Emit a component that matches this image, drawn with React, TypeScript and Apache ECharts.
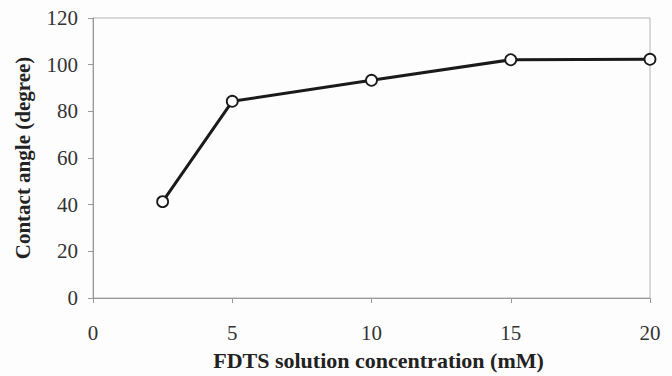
import React, { useEffect, useRef } from "react";
import * as echarts from "echarts";

const concentrations = [2.5, 5, 10, 15, 20];
const contactAngles = [41.3, 84.3, 93.3, 102.1, 102.3];
const xTicks = [0, 5, 10, 15, 20];
const yTicks = [0, 20, 40, 60, 80, 100, 120];

export default function App() {
  const ref = useRef<HTMLDivElement>(null);
  useEffect(() => {
    if (!ref.current) return;
    const chart = echarts.init(ref.current, undefined, { renderer: "svg" });
    const font = "'Liberation Serif', 'Times New Roman', serif";
    chart.setOption({
      animation: false,
      backgroundColor: "#fdfdfd",
      grid: {
        left: 93,
        right: 22,
        top: 18,
        bottom: 77,
        show: true,
        borderColor: "#b5b5b5",
        borderWidth: 1,
        backgroundColor: "transparent",
      },
      xAxis: {
        type: "value",
        min: xTicks[0],
        max: xTicks[xTicks.length - 1],
        interval: 5,
        name: "FDTS solution concentration (mM)",
        nameLocation: "middle",
        nameGap: 51,
        nameTextStyle: {
          fontFamily: font,
          fontSize: 22,
          fontWeight: "bold",
          color: "#222",
          padding: [0, 0, 0, 14],
        },
        axisLine: { show: true, lineStyle: { color: "#999", width: 1 } },
        axisTick: { show: true, length: 5, lineStyle: { color: "#999" } },
        axisLabel: { fontFamily: font, fontSize: 21, color: "#333", margin: 24 },
        splitLine: { show: false },
      },
      yAxis: {
        type: "value",
        min: yTicks[0],
        max: yTicks[yTicks.length - 1],
        interval: 20,
        name: "Contact angle (degree)",
        nameLocation: "middle",
        nameGap: 60,
        nameTextStyle: { fontFamily: font, fontSize: 21, fontWeight: "bold", color: "#222" },
        axisLine: { show: true, lineStyle: { color: "#999", width: 1 } },
        axisTick: { show: true, length: 5, lineStyle: { color: "#999" } },
        axisLabel: { fontFamily: font, fontSize: 21, color: "#333", margin: 15 },
        splitLine: { show: false },
      },
      series: [
        {
          type: "line",
          data: concentrations.map((c, i) => [c, contactAngles[i]]),
          symbol: "circle",
          symbolSize: 11,
          lineStyle: { color: "#1a1a1a", width: 3 },
          itemStyle: { color: "#ffffff", borderColor: "#1a1a1a", borderWidth: 1.8 },
          clip: false,
        },
      ],
    });
    return () => chart.dispose();
  }, []);
  return <div ref={ref} style={{ width: 672, height: 376, position: "absolute", left: 0, top: 0 }} />;
}
